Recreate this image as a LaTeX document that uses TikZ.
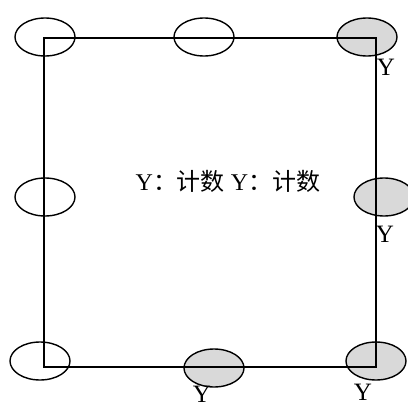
\documentclass[tikz,border=0pt]{standalone}
\usepackage{fontspec}
\setmainfont{Liberation Serif}
\newfontfamily\cjkfont{Noto Sans CJK SC}
\usetikzlibrary{shapes.geometric,positioning}
\definecolor{markgray}{HTML}{D9D9D9}

\begin{document}
\begin{tikzpicture}[
  x=1pt, y=-1pt,
  spot/.style={draw, ellipse, line width=1.4pt, minimum width=60pt,
               minimum height=38pt, inner sep=0pt},
  hit/.style={spot, fill=markgray},
  ylab/.style={font=\fontsize{25}{27}\selectfont, inner sep=0pt, anchor=north},
]
  \useasboundingbox (0,0) rectangle (408,407);

  % marks on the frame
  \node[spot] (tl) at (45,37) {};
  \node[spot] (tm) at (204,37) {};
  \node[hit]  (tr) at (367,37) {};
  \node[spot] (ml) at (45,197) {};
  \node[hit]  (mr) at (384,197) {};
  \node[spot] (bl) at (40,361) {};
  \node[hit]  (bm) at (214,368) {};
  \node[hit]  (br) at (376,361) {};

  % frame
  \draw[line width=1.4pt] (44,38) rectangle (376,367);

  \node[ylab] (ytr) at (386,59) {Y};
  \node[ylab] (ymr) at (385,226) {Y};
  \node[ylab] (ybm) at (202,386) {Y};
  \node[ylab] (ybr) at (363,384) {Y};

  \node[font=\fontsize{24}{26}\selectfont] (count) at (228,181)
    {Y{\cjkfont ：计数} Y{\cjkfont ：计数}};
\end{tikzpicture}
\end{document}
